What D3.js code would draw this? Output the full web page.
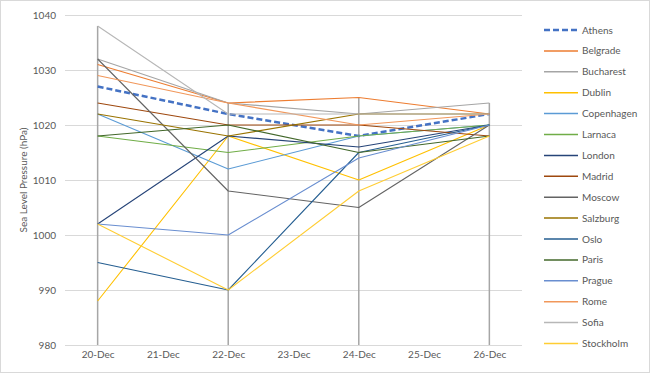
<!DOCTYPE html>
<html>
<head>
<meta charset="utf-8">
<script src="https://cdn.jsdelivr.net/npm/d3@7"></script>
<style>
  html, body { margin: 0; padding: 0; background: #fff; }
  svg { display: block; }
  text { font-family: Lato, "Liberation Sans", sans-serif; }
</style>
</head>
<body>
<svg id="chart" width="650" height="373"></svg>
<script>
const categories = ["20-Dec", "21-Dec", "22-Dec", "23-Dec", "24-Dec", "25-Dec", "26-Dec"];
const yTicks = [980, 990, 1000, 1010, 1020, 1030, 1040];
const seriesNames = ["Athens", "Belgrade", "Bucharest", "Dublin", "Copenhagen", "Larnaca", "London", "Madrid", "Moscow", "Salzburg", "Oslo", "Paris", "Prague", "Rome", "Sofia", "Stockholm"];
const seriesColors = ["#4472C4", "#ED7D31", "#A5A5A5", "#FFC000", "#5B9BD5", "#70AD47", "#264478", "#9E480E", "#636363", "#997300", "#255E91", "#43682B", "#698ED0", "#F1975A", "#B7B7B7", "#FFCD33"];
// values per category (null = no reading)
const athens     = [1027, null, 1022, null, 1018, null, 1022];
const belgrade   = [1031, null, 1024, null, 1025, null, 1022];
const bucharest  = [1032, null, 1024, null, 1022, null, 1024];
const dublin     = [988,  null, 1018, null, 1010, null, 1020];
const copenhagen = [1022, null, 1012, null, 1018, null, 1020];
const larnaca    = [1018, null, 1015, null, 1018, null, 1020];
const london     = [1002, null, 1018, null, 1016, null, 1020];
const madrid     = [1024, null, 1020, null, 1020, null, 1018];
const moscow     = [1032, null, 1008, null, 1005, null, 1020];
const salzburg   = [1022, null, 1018, null, 1022, null, 1022];
const oslo       = [995,  null, 990,  null, 1015, null, 1020];
const paris      = [1018, null, 1020, null, 1015, null, 1018];
const prague     = [1002, null, 1000, null, 1014, null, 1020];
const rome       = [1029, null, 1024, null, 1020, null, 1022];
const sofia      = [1038, null, 1022, null, 1022, null, 1022];
const stockholm  = [1002, null, 990,  null, 1008, null, 1018];
const seriesValues = [athens, belgrade, bucharest, dublin, copenhagen, larnaca, london, madrid, moscow, salzburg, oslo, paris, prague, rome, sofia, stockholm];

const svg = d3.select("#chart");
const W = 650, H = 373;
const plot = {left: 65, right: 522, top: 15, bottom: 345};

// chart border
svg.append("rect").attr("x", 0.5).attr("y", 0.5).attr("width", W - 1).attr("height", H - 1)
  .attr("fill", "#fff").attr("stroke", "#d9d9d9").attr("stroke-width", 1);

const x = d3.scalePoint().domain(categories).range([plot.left, plot.right]).padding(0.5);
const y = d3.scaleLinear().domain([980, 1040]).range([plot.bottom, plot.top]);

// gridlines
svg.append("g").selectAll("line").data(yTicks).join("line")
  .attr("x1", plot.left).attr("x2", plot.right)
  .attr("y1", d => Math.round(y(d)) + 0.5).attr("y2", d => Math.round(y(d)) + 0.5)
  .attr("stroke", "#d9d9d9").attr("stroke-width", 1);

// y axis labels
const yAxis = d3.axisLeft(y).tickValues(yTicks).tickSize(0).tickPadding(0).tickFormat(d3.format("d"));
const gy = svg.append("g").attr("transform", `translate(${plot.left - 9},0)`).call(yAxis);
gy.select(".domain").remove();
gy.selectAll("text").attr("fill", "#595959").attr("font-size", "10px").attr("font-family", "Lato, 'Liberation Sans', sans-serif");

// x axis labels
const xAxis = d3.axisBottom(x).tickSize(0).tickPadding(0);
const gx = svg.append("g").attr("transform", `translate(0,${plot.bottom + 6})`).call(xAxis);
gx.select(".domain").remove();
gx.selectAll("text").attr("fill", "#595959").attr("font-size", "10px").attr("font-family", "Lato, 'Liberation Sans', sans-serif");

// y axis title
svg.append("text")
  .attr("transform", `translate(27,${(plot.top + plot.bottom) / 2}) rotate(-90)`)
  .attr("text-anchor", "middle").attr("fill", "#595959").attr("font-size", "10px")
  .text("Sea Level Pressure (hPa)");

// drop lines from highest value at each category
const dropData = categories.map((c, i) => {
  const vals = seriesValues.map(s => s[i]).filter(v => v != null);
  return vals.length ? {c, v: d3.max(vals)} : null;
}).filter(d => d);
svg.append("g").selectAll("line").data(dropData).join("line")
  .attr("x1", d => x(d.c)).attr("x2", d => x(d.c))
  .attr("y1", d => y(d.v)).attr("y2", plot.bottom)
  .attr("stroke", "#a6a6a6").attr("stroke-width", 1.5);

// series lines
const line = d3.line().x(d => x(d.c)).y(d => y(d.v));
const seriesG = svg.append("g");
seriesNames.forEach((name, i) => {
  const pts = categories.map((c, j) => ({c, v: seriesValues[i][j]})).filter(d => d.v != null);
  const p = seriesG.append("path").datum(pts).attr("d", line)
    .attr("fill", "none").attr("stroke", seriesColors[i])
    .attr("stroke-width", i === 0 ? 2.5 : 1.1).attr("stroke-linejoin", "round");
  if (i === 0) p.attr("stroke-dasharray", "6,3");
});

// legend
const lg = svg.append("g");
seriesNames.forEach((name, i) => {
  const ly = 30 + i * 20.9;
  const l = lg.append("line").attr("x1", 544).attr("x2", 578).attr("y1", ly).attr("y2", ly)
    .attr("stroke", seriesColors[i]).attr("stroke-width", i === 0 ? 2.5 : 1.5);
  if (i === 0) l.attr("stroke-dasharray", "6,3");
  lg.append("text").attr("x", 582).attr("y", ly).attr("dy", "0.35em")
    .attr("fill", "#595959").attr("font-size", "10px").text(name);
});
</script>
</body>
</html>
